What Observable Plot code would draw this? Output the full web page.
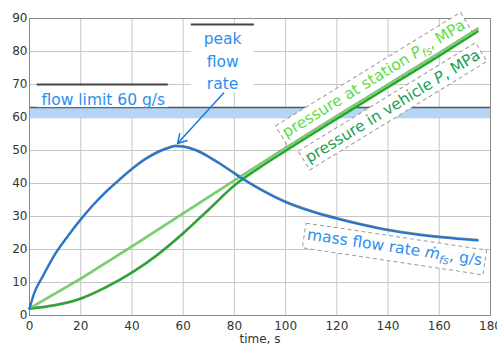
<!DOCTYPE html>
<html><head><meta charset="utf-8">
<script src="https://cdn.jsdelivr.net/npm/d3@7"></script>
<script src="https://cdn.jsdelivr.net/npm/@observablehq/plot@0.6"></script>
<style>body{margin:0;background:#fff} #chart svg{display:block}</style>
</head><body><div id="chart"></div>
<script>
// ---- data ----
const xTicks = [0, 20, 40, 60, 80, 100, 120, 140, 160, 180];
const yTicks = [0, 10, 20, 30, 40, 50, 60, 70, 80, 90];

const flowTime = [0, 2, 5, 10, 15, 20, 25, 30, 35, 40, 45, 50, 55, 57, 60, 65, 70, 75, 80, 85, 90, 100, 110, 120, 130, 140, 150, 160, 170, 175];
const massFlow = [2, 7, 11.5, 18.5, 24, 29, 33.5, 37.5, 41, 44.3, 47.2, 49.4, 50.9, 51.3, 51.1, 50, 48, 45.6, 43, 40.5, 38.2, 34.3, 31.5, 29.3, 27.4, 25.8, 24.6, 23.7, 23, 22.7];

const stationTime = [0, 20, 40, 60, 80, 100, 120, 140, 160, 175];
const stationPressure = [2, 11, 20.8, 30.8, 40.8, 50.6, 60.3, 69.9, 79.4, 86.8];

const vehicleTime = [0, 10, 20, 30, 40, 50, 60, 70, 80, 90, 100, 120, 140, 160, 175];
const vehiclePressure = [2, 3, 5, 8.5, 12.9, 18.3, 24.8, 32, 39.3, 44.8, 49.8, 59.5, 69.1, 78.6, 86];

const flowLimitBand = [{y1: 59.6, y2: 63}];

// annotation placement (data coordinates)
const labelBoxes = [
  {x1: 3, x2: 54.2, y1: 63, y2: 70},
  {x1: 63.2, x2: 87.8, y1: 67.6, y2: 88.2}
];
const plainLabels = [
  {x: 28.8, y: 66.1, text: "flow limit 60 g/s"},
  {x: 75.4, y: 77.6, text: "peak\nflow\nrate"}
];
const stationLabel = [{x: 134.4, y: 71.8, text: "pressure at station Pfs, MPa", rotate: -31.5}];
const vehicleLabel = [{x: 141.8, y: 63.4, text: "pressure in vehicle P, MPa", rotate: -31.5}];
const flowLabel = [{x: 142.6, y: 20.6, text: "mass flow rate mfs, g/s", rotate: 8.5}];
const arrowSpec = [{x1: 75.8, y1: 67.4, x2: 57.8, y2: 52.1}];

const BLUE = "#1f78d8", BLUE_TXT = "#2b8ff0";
const LGREEN = "#6fdc62", DGREEN = "#1fae2a";
const FONT = "DejaVu Sans";

const rotLabels = [...stationLabel, ...vehicleLabel, ...flowLabel];
const txtOpts = {x: "x", y: "y", text: "text", rotate: "rotate", fontSize: 15.5, fontFamily: FONT};

const plot = Plot.plot({
  width: 497, height: 347,
  marginLeft: 29, marginRight: 7, marginTop: 18, marginBottom: 32,
  style: {fontFamily: FONT, fontSize: "12px", color: "#333", background: "#fff"},
  x: {domain: [0, 180], ticks: xTicks, tickSize: 0, tickPadding: 6, label: null},
  y: {domain: [0, 90], ticks: yTicks, tickSize: 0, tickPadding: 2, label: null},
  marks: [
    Plot.ruleX(xTicks, {stroke: "#c6c6c6", strokeWidth: 1}),
    Plot.ruleY(yTicks, {stroke: "#c6c6c6", strokeWidth: 1}),
    Plot.rect(flowLimitBand, {x1: 0, x2: 180, y1: "y1", y2: "y2", fill: "#b3d6f6"}),
    Plot.ruleY(flowLimitBand, {y: "y2", x1: 0, x2: 180, stroke: "#555", strokeWidth: 1.5}),
    Plot.rect(labelBoxes, {x1: "x1", x2: "x2", y1: "y1", y2: "y2", fill: "white"}),
    Plot.ruleY(labelBoxes, {y: "y2", x1: "x1", x2: "x2", stroke: "#444", strokeWidth: 2}),
    Plot.frame({stroke: "#8a8a8a"}),
    // placeholder texts -> measured to draw white dashed label boxes
    Plot.text(rotLabels, {...txtOpts, fill: "#fefefe"}),
    // line shadows
    Plot.line(stationPressure, {x: (d, i) => stationTime[i], y: d => d, stroke: "#222", strokeWidth: 2, dy: -0.8, strokeOpacity: 0.45}),
    Plot.line(vehiclePressure, {x: (d, i) => vehicleTime[i], y: d => d, stroke: "#111", strokeWidth: 2, dy: -0.8, strokeOpacity: 0.55, curve: "monotone-x"}),
    Plot.line(massFlow, {x: (d, i) => flowTime[i], y: d => d, stroke: "#111", strokeWidth: 2, dy: -0.8, strokeOpacity: 0.55, curve: "monotone-x"}),
    // lines
    Plot.line(stationPressure, {x: (d, i) => stationTime[i], y: d => d, stroke: LGREEN, strokeWidth: 2}),
    Plot.line(vehiclePressure, {x: (d, i) => vehicleTime[i], y: d => d, stroke: DGREEN, strokeWidth: 2, curve: "monotone-x"}),
    Plot.line(massFlow, {x: (d, i) => flowTime[i], y: d => d, stroke: BLUE, strokeWidth: 2, curve: "monotone-x"}),
    Plot.arrow(arrowSpec, {x1: "x1", y1: "y1", x2: "x2", y2: "y2", stroke: BLUE, strokeWidth: 1.5, headLength: 10}),
    // texts
    Plot.text(plainLabels, {x: "x", y: "y", text: "text", fill: BLUE_TXT, fontSize: 15.5, fontFamily: FONT, lineHeight: 1.45}),
    Plot.text(stationLabel, {...txtOpts, fill: "#5fdc45"}),
    Plot.text(vehicleLabel, {...txtOpts, fill: "#1a9e55"}),
    Plot.text(flowLabel, {...txtOpts, fill: BLUE_TXT}),
    Plot.text(["time, s"], {text: d => d, frameAnchor: "bottom", dy: 27, fill: "#333", fontSize: 12, fontFamily: FONT})
  ]
});
document.getElementById("chart").append(plot);

// rich text (italic symbols with subscripts)
const NS = "http://www.w3.org/2000/svg";
const rich = {
  "pressure at station Pfs, MPa": [["pressure at station ", {}], ["P", {"font-style": "italic"}], ["fs", {"font-style": "italic", "font-size": "11", "dy": "4"}], [", MPa", {"dy": "-4"}]],
  "pressure in vehicle P, MPa": [["pressure in vehicle ", {}], ["P", {"font-style": "italic"}], [", MPa", {}]],
  "mass flow rate mfs, g/s": [["mass flow rate ", {}], ["\u1E41", {"font-style": "italic"}], ["fs", {"font-style": "italic", "font-size": "11", "dy": "4"}], [", g/s", {"dy": "-4"}]]
};
plot.querySelectorAll("text").forEach(t => {
  const spec = rich[t.textContent];
  if (!spec) return;
  t.textContent = "";
  for (const [s, attrs] of spec) {
    const ts = document.createElementNS(NS, "tspan");
    ts.textContent = s;
    for (const a in attrs) ts.setAttribute(a, attrs[a]);
    t.append(ts);
  }
});
// white dashed boxes behind rotated labels
plot.querySelectorAll('g[fill="#fefefe"] text').forEach(t => {
  const b = t.getBBox();
  const pad = 3;
  const r = document.createElementNS(NS, "rect");
  r.setAttribute("x", b.x - pad);
  r.setAttribute("y", b.y - pad + 1);
  r.setAttribute("width", b.width + 2 * pad);
  r.setAttribute("height", b.height + 2 * pad - 2);
  r.setAttribute("transform", t.getAttribute("transform") || "");
  r.setAttribute("fill", "white");
  r.setAttribute("stroke", "#9a9a9a");
  r.setAttribute("stroke-dasharray", "4,3");
  t.parentNode.insertBefore(r, t);
  t.setAttribute("visibility", "hidden");
});
</script>
</body></html>
